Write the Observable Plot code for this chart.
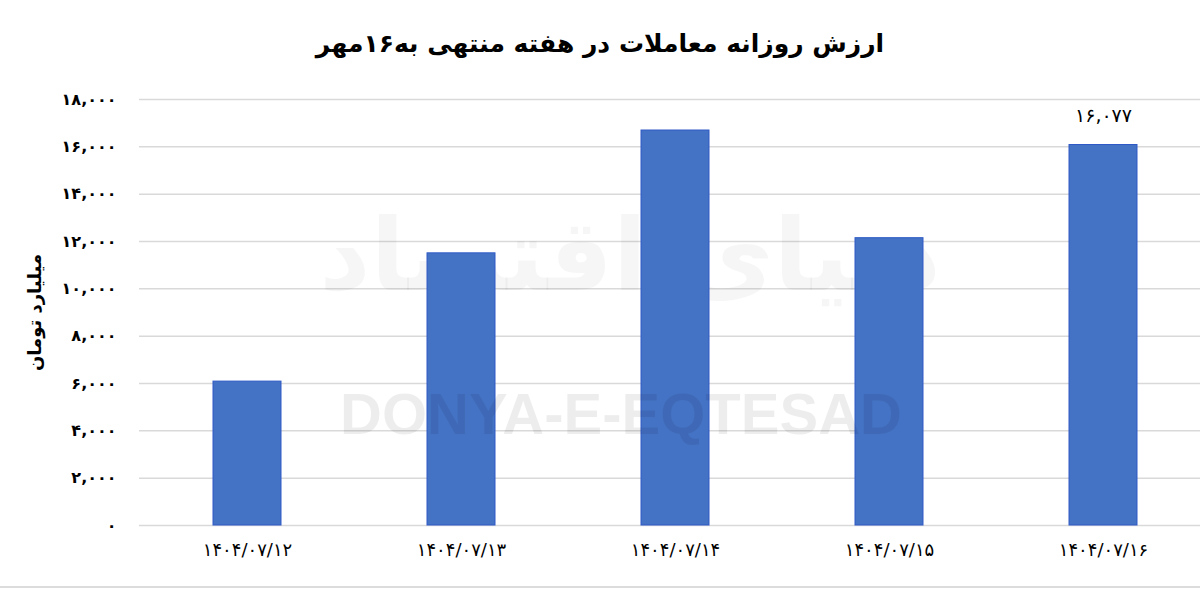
<!DOCTYPE html>
<html>
<head>
<meta charset="utf-8">
<script src="https://cdn.jsdelivr.net/npm/d3@7"></script>
<script src="https://cdn.jsdelivr.net/npm/@observablehq/plot@0.6"></script>
<style>
  html, body { margin: 0; padding: 0; background: #fff; }
  #wrap { position: relative; width: 1200px; height: 591px; overflow: hidden; }
  #title { height: 75px; line-height: 88px; text-align: center; direction: rtl;
           font-family: "DejaVu Sans", sans-serif; font-weight: bold; font-size: 25px; color: #000; }
  #bottomline { position: absolute; left: 0; top: 586px; width: 1200px; height: 2px; background: #dcdcdc; }
</style>
</head>
<body>
<div id="wrap">
  <div id="title">ارزش روزانه معاملات در هفته منتهی به۱۶مهر</div>
  <div id="chart"></div>
  <div id="bottomline"></div>
</div>
<script>
const dates = ["1404/07/12", "1404/07/13", "1404/07/14", "1404/07/15", "1404/07/16"];
const values = [6080, 11500, 16690, 12140, 16077];
const labelledDates = ["1404/07/16"];
const yTicks = [0, 2000, 4000, 6000, 8000, 10000, 12000, 14000, 16000, 18000];
const yLabel = "میلیارد تومان";
const watermarkLatin = "DONYA-E-EQTESAD";
const watermarkPersian = "دنیای اقتصاد";

const faDigits = "۰۱۲۳۴۵۶۷۸۹";
const toFa = s => String(s).replace(/\d/g, d => faDigits[+d]);
const fmt = d => toFa(d3.format(",")(d));

const data = dates.map((d, i) => ({date: d, value: values[i]}));
const labelled = data.filter(d => labelledDates.includes(d.date));

const font = "DejaVu Sans, sans-serif";

const chart = Plot.plot({
  width: 1200,
  height: 516,
  marginTop: 24,
  marginBottom: 66,
  marginLeft: 139,
  marginRight: 0,
  style: {fontFamily: font, background: "transparent", overflow: "visible"},
  x: {domain: dates, range: [139, 1211], paddingInner: 0.683, paddingOuter: 0.3415},
  y: {domain: [0, 18000]},
  marks: [
    Plot.ruleY(yTicks, {y: d => d, stroke: "#d9d9d9", strokeWidth: 1.5}),
    Plot.text([watermarkPersian], {frameAnchor: "middle", dx: -40, dy: -55, text: d => d,
      fontSize: 100, fontWeight: "bold", fill: "#000", fillOpacity: 0.035, fontFamily: font}),
    Plot.barY(data, {x: "date", y: "value", fill: "#4472c4", stroke: "#2f5ac6", strokeWidth: 1}),
    Plot.text([watermarkLatin], {frameAnchor: "middle", dx: -49, dy: 103, text: d => d,
      fontSize: 58, fontWeight: "bold", fill: "#000", fillOpacity: 0.07, fontFamily: "Liberation Sans, Arial, sans-serif"}),
    Plot.text(labelled, {x: "date", y: "value", text: d => fmt(d.value), dy: -29,
      fontSize: 19, fill: "#000", fontFamily: font}),
    Plot.axisY({ticks: yTicks, tickFormat: fmt, tickSize: 0, tickPadding: 23, fontSize: 16,
      fontWeight: "bold", label: null, fill: "#000"}),
    Plot.axisX({tickFormat: d => toFa(d), tickSize: 0, tickPadding: 18, fontSize: 18,
      label: null, fill: "#000"}),
    Plot.text([yLabel], {frameAnchor: "left", textAnchor: "middle", dx: -104, text: d => d, rotate: -90,
      fontSize: 18, fontWeight: "bold", fill: "#000", fontFamily: font})
  ]
});
document.getElementById("chart").appendChild(chart);
</script>
</body>
</html>
